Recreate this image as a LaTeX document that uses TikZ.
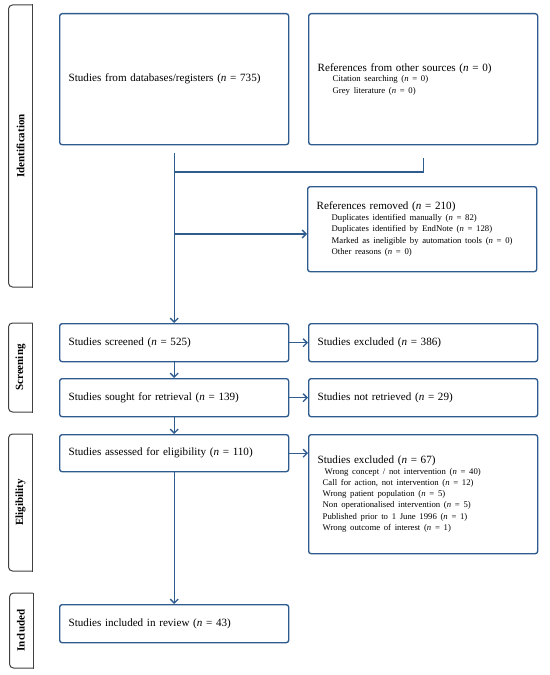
\documentclass[tikz,border=0pt]{standalone}
\usepackage{fontspec}
\setmainfont{Liberation Serif}
\usetikzlibrary{arrows.meta,calc}
\definecolor{flow}{HTML}{2F5C8F}
\definecolor{labframe}{HTML}{404040}
\newcommand{\nn}{\textit{n}}
\tikzset{
  box/.style={draw=flow, line width=1.35bp, rounded corners=2.5bp, align=left,
    inner xsep=9bp, inner ysep=0bp, font=\fontsize{11.1bp}{12.5bp}\selectfont, anchor=north west},
  link/.style={draw=flow, line width=1.3bp},
  arr/.style={link, -{Straight Barb[length=4bp,width=8bp,line width=1.3bp]}},
  phase/.style={font=\bfseries\fontsize{11bp}{12bp}\selectfont, rotate=90, inner sep=0pt},
  frame/.style={draw=labframe, line width=1bp},
}
\newcommand{\sub}[1]{{\fontsize{8.7bp}{11.3bp}\selectfont #1}}
\begin{document}
\begin{tikzpicture}[x=1bp,y=-1bp]
\useasboundingbox (0,0) rectangle (550,675);
% main boxes
\node[box, text width=211bp, minimum height=131bp] (db) at (59,13)
  {Studies from databases/registers (\nn{} = 735)};
\node[box, text width=211bp, minimum height=131bp] (oth) at (308,13)
  {References from other sources (\nn{} = 0)\\[-2bp]
   \sub{\hspace*{15bp}Citation searching (\nn{} = 0)}\\[-1.2bp]
   \sub{\hspace*{15bp}Grey literature (\nn{} = 0)}};
\node[box, text width=211bp, minimum height=85bp] (rem) at (307,186)
  {References removed (\nn{} = 210)\\[-2bp]
   \sub{\hspace*{15bp}Duplicates identified manually (\nn{} = 82)}\\[-1.2bp]
   \sub{\hspace*{15bp}Duplicates identified by EndNote (\nn{} = 128)}\\[-1.2bp]
   \sub{\hspace*{15bp}Marked as ineligible by automation tools (\nn{} = 0)}\\[-1.2bp]
   \sub{\hspace*{15bp}Other reasons (\nn{} = 0)}};
\node[box, text width=211bp, minimum height=38bp] (scr) at (59,323)
  {Studies screened (\nn{} = 525)};
\node[box, text width=211bp, minimum height=38bp] (exA) at (308,323)
  {Studies excluded (\nn{} = 386)};
\node[box, text width=211bp, minimum height=38bp] (sou) at (59,378)
  {Studies sought for retrieval (\nn{} = 139)};
\node[box, text width=211bp, minimum height=38bp] (nre) at (308,378)
  {Studies not retrieved (\nn{} = 29)};
\node[box, text width=211bp, minimum height=37bp] (ass) at (59,434)
  {Studies assessed for eligibility (\nn{} = 110)};
\node[box, text width=211bp, minimum height=119bp] (exB) at (308,434)
  {Studies excluded (\nn{} = 67)\\[-2bp]
   \sub{\hspace*{7bp}Wrong concept / not intervention (\nn{} = 40)}\\[-1.2bp]
   \sub{\hspace*{5bp}Call for action, not intervention (\nn{} = 12)}\\[-1.2bp]
   \sub{\hspace*{5bp}Wrong patient population (\nn{} = 5)}\\[-1.2bp]
   \sub{\hspace*{5bp}Non operationalised intervention (\nn{} = 5)}\\[-1.2bp]
   \sub{\hspace*{5bp}Published prior to 1 June 1996 (\nn{} = 1)}\\[-1.2bp]
   \sub{\hspace*{5bp}Wrong outcome of interest (\nn{} = 1)}};
\node[box, text width=211bp, minimum height=38bp] (inc) at (59,604)
  {Studies included in review (\nn{} = 43)};
% connectors
\coordinate (dbs) at ([yshift=-8bp]db.south);
\coordinate (oths) at ([yshift=-13bp]oth.south);
\coordinate (join) at (dbs |- 0,172);
\coordinate (rj) at (dbs |- 0,234);
\draw[link] (oths) -- (oths |- join) -- (join);
\draw[arr] (dbs) -- (scr.north);
\draw[arr] (rj) -- (rj -| rem.west);
\draw[arr] (scr.south) -- (sou.north);
\draw[arr] (sou.south) -- (ass.north);
\draw[arr] (ass.south) -- (inc.north);
\draw[arr] (scr.east) -- (exA.west);
\draw[arr] (sou.east) -- (nre.west);
\draw[arr] (ass.east) -- (ass.east -| exB.west);
% phase labels
\node[phase] (pI) at (20.5,146) {Identification};
\node[phase] (pS) at (20.5,367.5) {Screening};
\node[phase] (pE) at (20.5,502.5) {Eligibility};
\node[phase] (pN) at (21,630.5) {Included};
\foreach \t/\b/\l/\r in {5/287/8.5/32.5, 323/412/8.5/32.5, 434/571/8.5/32.5, 593/668/9.5/33}{
  \draw[frame, rounded corners=4bp] (\r,\t) -- (\l,\t) -- (\l,\b) -- (\r,\b);
  \draw[frame, line cap=rect] (\r,\t) -- (\r,\b);
}
\end{tikzpicture}
\end{document}
